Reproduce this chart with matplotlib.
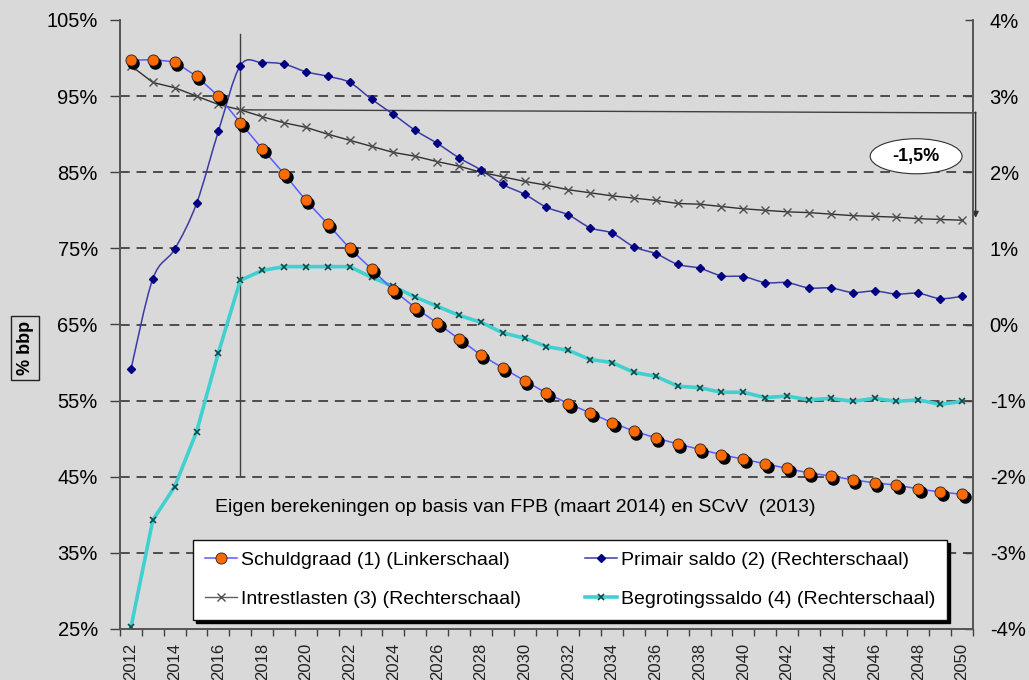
import numpy as np
import matplotlib
matplotlib.use("Agg")
import matplotlib.pyplot as plt
import matplotlib.transforms as mtransforms
from matplotlib.path import Path
from matplotlib.patches import PathPatch, Ellipse
from matplotlib.lines import Line2D

plt.rcParams['font.family'] = ['Liberation Sans', 'DejaVu Sans']

years = list(range(2012, 2051))

# Schuldgraad (1), linkerschaal, % bbp
schuldgraad = [99.7, 99.8, 99.5, 97.6, 95.0, 91.5, 88.1, 84.8, 81.3, 78.2,
               75.0, 72.3, 69.5, 67.2, 65.2, 63.1, 61.0, 59.3, 57.6, 56.0,
               54.6, 53.4, 52.1, 51.0, 50.1, 49.3, 48.6, 47.9, 47.3, 46.7,
               46.1, 45.5, 45.1, 44.6, 44.2, 43.9, 43.4, 43.0, 42.7]
# Primair saldo (2), rechterschaal
primair = [-0.59, 0.60, 0.99, 1.59, 2.54, 3.40, 3.44, 3.42, 3.32, 3.26,
           3.18, 2.96, 2.76, 2.55, 2.38, 2.19, 2.03, 1.84, 1.71, 1.54,
           1.44, 1.27, 1.20, 1.02, 0.93, 0.79, 0.74, 0.64, 0.63, 0.55,
           0.55, 0.48, 0.48, 0.42, 0.44, 0.40, 0.41, 0.34, 0.37]
# Intrestlasten (3), rechterschaal
intrest = [3.40, 3.18, 3.11, 3.00, 2.89, 2.82, 2.73, 2.65, 2.59, 2.50,
           2.42, 2.34, 2.26, 2.21, 2.14, 2.08, 2.00, 1.94, 1.88, 1.83,
           1.77, 1.73, 1.69, 1.66, 1.63, 1.59, 1.58, 1.55, 1.52, 1.50,
           1.48, 1.47, 1.45, 1.43, 1.42, 1.41, 1.39, 1.38, 1.37]
# Begrotingssaldo (4), rechterschaal
begroting = [-3.98, -2.57, -2.13, -1.41, -0.37, 0.58, 0.71, 0.76, 0.76, 0.76,
             0.76, 0.62, 0.50, 0.36, 0.24, 0.12, 0.03, -0.11, -0.18, -0.29,
             -0.34, -0.46, -0.50, -0.63, -0.68, -0.81, -0.83, -0.89, -0.89, -0.96,
             -0.94, -0.99, -0.97, -1.01, -0.97, -1.01, -0.99, -1.05, -1.01]

left_ticks = [25, 35, 45, 55, 65, 75, 85, 95, 105]
right_ticks = [-4, -3, -2, -1, 0, 1, 2, 3, 4]

x = np.arange(len(years))
bg = '#d9d9d9'


def smooth_path(xs, ys):
    # Excel-style smoothed line: cubic bezier through the points
    xs = np.asarray(xs, float)
    ys = np.asarray(ys, float)
    n = len(xs)
    verts = [(xs[0], ys[0])]
    codes = [Path.MOVETO]
    for i in range(n - 1):
        i0 = max(i - 1, 0)
        i3 = min(i + 2, n - 1)
        c1 = (xs[i] + (xs[i + 1] - xs[i0]) / 6, ys[i] + (ys[i + 1] - ys[i0]) / 6)
        c2 = (xs[i + 1] - (xs[i3] - xs[i]) / 6, ys[i + 1] - (ys[i3] - ys[i]) / 6)
        verts += [c1, c2, (xs[i + 1], ys[i + 1])]
        codes += [Path.CURVE4] * 3
    return Path(verts, codes)


fig = plt.figure(figsize=(10.29, 6.80), dpi=100, facecolor=bg)
ax = fig.add_axes([120 / 1029, 1 - 629 / 680, 853 / 1029, 609 / 680])
ax2 = ax.twinx()

ax.set_xlim(-0.5, len(years) - 0.5)
ax.set_ylim(25, 105)
ax2.set_ylim(-4, 4)
ax2.set_facecolor(bg)

for v in right_ticks[1:-1]:
    ax2.axhline(v, color='#4d4d4d', lw=1.4, ls=(0, (5, 3.5)), zorder=1)

# right-scale series
ax2.add_patch(PathPatch(smooth_path(x, primair), fc='none', ec='#3b3ba8', lw=1.1, zorder=3))
ax2.plot(x, primair, ls='none', marker='D', ms=4.5, mfc='#000080', mec='#000080', zorder=4)

ax2.plot(x, intrest, color='#303030', lw=1.0, marker='x', ms=6, mec='#505050',
         mew=1.0, zorder=3)

ax2.plot(x, begroting, color='#40d0d0', lw=2.6, marker='x', ms=4, mec='#104848',
         mew=1.2, zorder=3)

# left-scale series (drawn on top)
ax.set_zorder(ax2.get_zorder() + 1)
ax.patch.set_visible(False)
ax.plot(x, schuldgraad, color='#5a5aff', lw=1.1, zorder=3)
shadow = mtransforms.offset_copy(ax.transData, fig=fig, x=2.5, y=-3, units='dots')
ax.plot(x, schuldgraad, ls='none', marker='o', ms=8, mfc='black', mec='black',
        transform=shadow, zorder=4)
ax.plot(x, schuldgraad, ls='none', marker='o', ms=8, mfc='#ff6a00', mec='#202020',
        mew=0.6, zorder=5)

# annotation lines (2017 marker and -1,5% arrow)
ax2.plot([5, 5], [3.81, -1.98], color='#404040', lw=1.0, zorder=2)
ax2.plot([5, 38.62], [2.82, 2.78], color='#404040', lw=1.0, zorder=2, clip_on=False)
ax2.annotate('', xy=(38.62, 1.40), xytext=(38.62, 2.79),
             arrowprops=dict(arrowstyle='-|>', color='#303030', lw=1.0,
                             mutation_scale=9, shrinkA=0, shrinkB=0),
             annotation_clip=False, zorder=6)
ax2.add_patch(Ellipse((35.9, 2.21), 4.2, 0.46, fc='white', ec='#303030', lw=0.8, zorder=6))
ax2.text(35.9, 2.21, '-1,5%', ha='center', va='center', fontsize=13,
         fontweight='bold', zorder=7)

# axes styling
ax.set_yticks(left_ticks)
ax.set_yticklabels([f'{v}%' for v in left_ticks])
ax2.set_yticks(right_ticks)
ax2.set_yticklabels([f'{v}%' for v in right_ticks])
ax.tick_params(axis='y', direction='out', length=7, width=1, color='#404040',
               labelsize=14.5, pad=9)
ax2.tick_params(axis='y', direction='in', length=6, width=1, color='#404040',
                labelsize=14.5, pad=12)
ax.set_xticks(x[::2])
ax.set_xticklabels([str(y) for y in years[::2]], rotation=90, fontsize=12, color='#222222')
ax.set_xticks(np.arange(-0.5, len(years), 1), minor=True)
ax.tick_params(axis='x', which='major', length=0, pad=10)
ax.tick_params(axis='x', which='minor', length=5, width=1, color='#404040', direction='out')

for a in (ax, ax2):
    a.spines['top'].set_visible(False)
    for s in ('left', 'right', 'bottom'):
        a.spines[s].set_color('#555555')
        a.spines[s].set_linewidth(1.2)

# legend
handles = [
    Line2D([], [], color='#5a5aff', lw=1.1, marker='o', ms=8, mfc='#ff6a00', mec='#202020', mew=0.6),
    Line2D([], [], color='#606060', lw=1.0, marker='x', ms=6, mec='#505050'),
    Line2D([], [], color='#3b3ba8', lw=1.1, marker='D', ms=4.5, mfc='#000080', mec='#000080'),
    Line2D([], [], color='#40d0d0', lw=2.6, marker='x', ms=4, mec='#104848', mew=1.2),
]
labels = ['Schuldgraad (1) (Linkerschaal)', 'Intrestlasten (3) (Rechterschaal)',
          'Primair saldo (2) (Rechterschaal)', 'Begrotingssaldo (4) (Rechterschaal)']
leg = fig.legend(handles, labels, ncol=2, loc='upper left',
                 bbox_to_anchor=(193 / 1029, 1 - 540 / 680),
                 fontsize=14, handlelength=1.65, handletextpad=0.2,
                 columnspacing=3.3, labelspacing=1.1, borderpad=0.6,
                 borderaxespad=0, fancybox=False, framealpha=1,
                 edgecolor='#111111', facecolor='white',
                 shadow={'color': 'black', 'alpha': 1})
leg.get_frame().set_linewidth(1.0)

fig.text(515 / 1029, 1 - 507 / 680,
         'Eigen berekeningen op basis van FPB (maart 2014) en SCvV  (2013)',
         ha='center', va='center', fontsize=14)
fig.text(25 / 1029, 1 - 348 / 680, '% bbp', rotation=90, ha='center', va='center',
         fontsize=13, fontweight='bold',
         bbox=dict(boxstyle='square,pad=0.3', fc='none', ec='#222222', lw=1))

fig.savefig('out.png', dpi=100, facecolor=bg)
